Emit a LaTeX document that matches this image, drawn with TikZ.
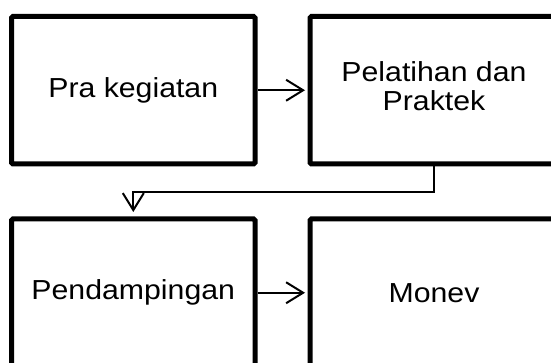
\documentclass[tikz,border=0pt]{standalone}
\usepackage{fontspec}
\setmainfont{Liberation Sans}
\usepackage{graphicx}
\usetikzlibrary{arrows.meta}
\newcommand{\sx}[1]{\scalebox{1.1}[1]{#1}}
\tikzset{
  stagebox/.style={draw=black, line width=5pt, rounded corners=1.5pt, fill=white,
    minimum height=147.5pt, inner sep=0pt, text=black,
    font=\fontsize{27.5}{28.4}\selectfont},
  flowarrow/.style={line width=2pt, -{Straight Barb[length=17pt,width=21pt]}}
}
\begin{document}
\begin{tikzpicture}[x=1pt,y=-1pt]
\useasboundingbox (0,0) rectangle (551,363);
\clip (0,0) rectangle (551,363);
\fill[white] (0,0) rectangle (551,363);
\node[stagebox, minimum width=243.5pt] (pra) at (133.25,90.25) {\sx{Pra kegiatan}};
\node[stagebox, minimum width=248pt] (pel) at (434,90.25) {\sx{\begin{tabular}{@{}c@{}}Pelatihan dan\\Praktek\end{tabular}}};
\node[stagebox, minimum width=243.5pt] (pen) at (133.25,292.75) {\sx{Pendampingan}};
\node[stagebox, minimum width=248pt] (mon) at (434,292.75) {\sx{Monev}};
\coordinate (c1) at (434,191.7);
\coordinate (c2) at (133.3,191.7);
\draw[flowarrow, shorten >=2.5pt] (pra.east) -- (pel.west);
\draw[flowarrow, shorten >=2.5pt] (pen.east) -- (mon.west);
\draw[flowarrow, shorten >=4.5pt] (pel.south) -- (c1) -- (c2) -- (pen.north -| c2);
\end{tikzpicture}
\end{document}
